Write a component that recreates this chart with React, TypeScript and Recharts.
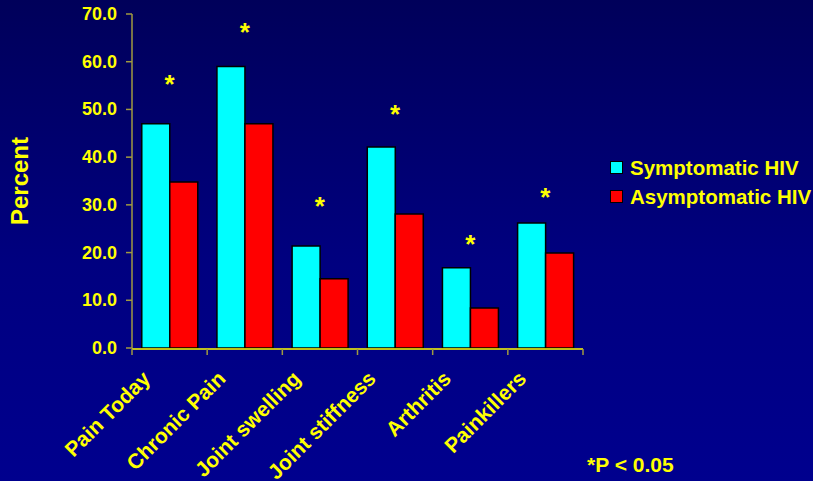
import React from "react";
import { ComposedChart, Bar, Scatter, XAxis, YAxis } from "recharts";

const categories = ["Pain Today", "Chronic Pain", "Joint swelling", "Joint stiffness", "Arthritis", "Painkillers"];
const symptomatic = [47.0, 59.0, 21.4, 42.1, 16.8, 26.2];
const asymptomatic = [34.8, 47.0, 14.5, 28.1, 8.4, 19.9];
const starLevel = [55.8, 66.7, 30.2, 49.5, 22.2, 32.1];
const yTicks = [0, 10, 20, 30, 40, 50, 60, 70];
const boundaryTicks = [0, 1, 2, 3, 4, 5, 6];
const legendItems = [
  { label: "Symptomatic HIV", color: "#00FFFF" },
  { label: "Asymptomatic HIV", color: "#FF0000" },
];

const data = categories.map((c, i) => ({
  name: c,
  pos: i + 0.5,
  sym: symptomatic[i],
  asym: asymptomatic[i],
  star: starLevel[i],
}));

const YELLOW = "#FFFF00";
const OLIVE = "#A09A40";
const FONT = "'Liberation Sans', Arial, sans-serif";

const XTick = (props: any) => {
  const { x, y, payload } = props;
  return (
    <g transform={`translate(${x - 18},${y + 24})`}>
      <text
        textAnchor="end"
        transform="rotate(-45)"
        fill={YELLOW}
        fontFamily={FONT}
        fontWeight="bold"
        fontSize={21}
      >
        {payload.value}
      </text>
    </g>
  );
};

const YTick = (props: any) => {
  const { x, y, payload } = props;
  return (
    <text
      x={x - 7}
      y={y}
      dy={6}
      textAnchor="end"
      fill={YELLOW}
      fontFamily={FONT}
      fontWeight="bold"
      fontSize={18}
    >
      {payload.value.toFixed(1)}
    </text>
  );
};

const Star = (props: any) => {
  const { cx, cy } = props;
  return (
    <text
      x={cx}
      y={cy}
      dy={11}
      textAnchor="middle"
      fill={YELLOW}
      fontFamily={FONT}
      fontWeight="bold"
      fontSize={26}
    >
      *
    </text>
  );
};

const Nothing = () => <g />;

export default function App() {
  return (
    <div
      style={{
        position: "absolute",
        left: 0,
        top: 0,
        width: 813,
        height: 481,
        background: "linear-gradient(to bottom, #00005A 0%, #000080 55%, #00008E 100%)",
        overflow: "hidden",
      }}
    >
      <ComposedChart
        width={813}
        height={481}
        data={data}
        margin={{ top: 14, right: 230, bottom: 0, left: 0 }}
        barCategoryGap="13%"
        barGap={0}
      >
        <XAxis
          dataKey="name"
          height={1}
          interval={0}
          tick={<XTick />}
          tickLine={false}
          axisLine={false}
        />
        <XAxis
          xAxisId="bounds"
          dataKey="pos"
          type="number"
          domain={[0, 6]}
          ticks={boundaryTicks}
          interval={0}
          height={132}
          tick={<Nothing />}
          tickSize={6}
          allowDataOverflow
          axisLine={{ stroke: YELLOW, strokeWidth: 1.5 }}
          tickLine={{ stroke: OLIVE, strokeWidth: 1.5 }}
        />
        <YAxis
          width={132}
          domain={[0, 70]}
          ticks={yTicks}
          interval={0}
          tick={<YTick />}
          tickSize={6}
          axisLine={{ stroke: OLIVE, strokeWidth: 1.5 }}
          tickLine={{ stroke: OLIVE, strokeWidth: 1.5 }}
          label={{
            value: "Percent",
            angle: -90,
            position: "insideLeft",
            dx: 14,
            fill: YELLOW,
            fontFamily: FONT,
            fontWeight: "bold",
            fontSize: 24,
            style: { textAnchor: "middle" },
          }}
        />
        <Bar dataKey="sym" name="Symptomatic HIV" fill="#00FFFF" stroke="#000" strokeWidth={1.5} isAnimationActive={false} />
        <Bar dataKey="asym" name="Asymptomatic HIV" fill="#FF0000" stroke="#000" strokeWidth={1.5} isAnimationActive={false} />
        <Scatter dataKey="star" shape={<Star />} isAnimationActive={false} legendType="none" />
        <Scatter xAxisId="bounds" dataKey="star" shape={<Nothing />} isAnimationActive={false} legendType="none" />
      </ComposedChart>
      <div
        style={{
          position: "absolute",
          left: 610,
          top: 153,
          fontFamily: FONT,
          fontWeight: "bold",
          fontSize: 20.5,
          color: YELLOW,
        }}
      >
        {legendItems.map((it) => (
          <div key={it.label} style={{ display: "flex", alignItems: "center", height: 29 }}>
            <div
              style={{
                width: 11,
                height: 11,
                background: it.color,
                border: "1px solid #000",
                marginRight: 7,
              }}
            />
            <span>{it.label}</span>
          </div>
        ))}
      </div>
      <div
        style={{
          position: "absolute",
          left: 587,
          top: 453,
          fontFamily: FONT,
          fontWeight: "bold",
          fontSize: 21,
          color: YELLOW,
        }}
      >
        *P &lt; 0.05
      </div>
    </div>
  );
}
